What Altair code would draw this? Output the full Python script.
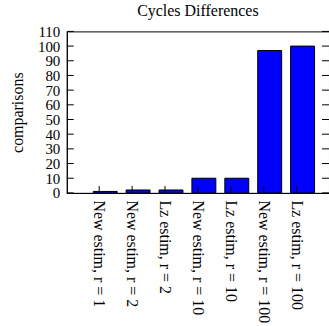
import altair as alt
import pandas as pd

categories = ["New estim, r = 1", "New estim, r = 2", "Lz estim, r = 2",
              "New estim, r = 10", "Lz estim, r = 10", "New estim, r = 100",
              "Lz estim, r = 100"]
values = [1, 2, 2, 10, 10, 97, 100]
y_ticks = [0, 10, 20, 30, 40, 50, 60, 70, 80, 90, 100, 110]

W, H = 263, 162
FONT = "Liberation Serif"

df = pd.DataFrame({"cat": categories, "val": values})
tdf = pd.DataFrame({"t": y_ticks})

xscale = alt.Scale(paddingInner=0, paddingOuter=0.485)
yscale = alt.Scale(domain=[0, 110], nice=False)

xaxis = alt.Axis(title=None, labelAngle=90, ticks=False, labelPadding=7,
                 labelFont=FONT, labelFontSize=16, labelColor="black",
                 domainColor="black", labelLimit=0)
yaxis = alt.Axis(title="comparisons", values=y_ticks, ticks=False, grid=False,
                 labelFont=FONT, labelFontSize=15, labelColor="black",
                 labelPadding=7, domainColor="black", labelOverlap=False,
                 labelFlush=False, labelBound=False,
                 titleFont=FONT, titleFontSize=16, titleFontWeight="normal",
                 titleColor="black", titlePadding=12)

bars = alt.Chart(df).mark_bar(color="#0000ff", stroke="black", strokeWidth=1,
                              size=24, xOffset=6).encode(
    x=alt.X("cat:N", sort=categories, scale=xscale, axis=xaxis),
    y=alt.Y("val:Q", scale=yscale, axis=yaxis, title="comparisons"),
)

xticks = alt.Chart(df).mark_rule(color="black").encode(
    x=alt.X("cat:N", sort=categories, scale=xscale, axis=xaxis),
    y=alt.value(H - 7), y2=alt.value(H))

lticks = alt.Chart(tdf).mark_rule(color="black").encode(
    y=alt.Y("t:Q", scale=yscale, axis=yaxis, title="comparisons"),
    x=alt.value(0), x2=alt.value(7))
rticks = alt.Chart(tdf).mark_rule(color="black").encode(
    y=alt.Y("t:Q", scale=yscale, axis=yaxis, title="comparisons"),
    x=alt.value(W - 7), x2=alt.value(W))

chart = alt.layer(bars, xticks, lticks, rticks).properties(
    width=W, height=H,
    title=alt.TitleParams("Cycles Differences", font=FONT, fontSize=16,
                          fontWeight="normal", color="black", offset=5),
    padding={"left": 67, "top": 31, "right": 0, "bottom": 133},
    autosize="none",
).configure_view(stroke="black", strokeWidth=1)

chart.save("out.html", embed_options={"renderer": "svg", "actions": False})
